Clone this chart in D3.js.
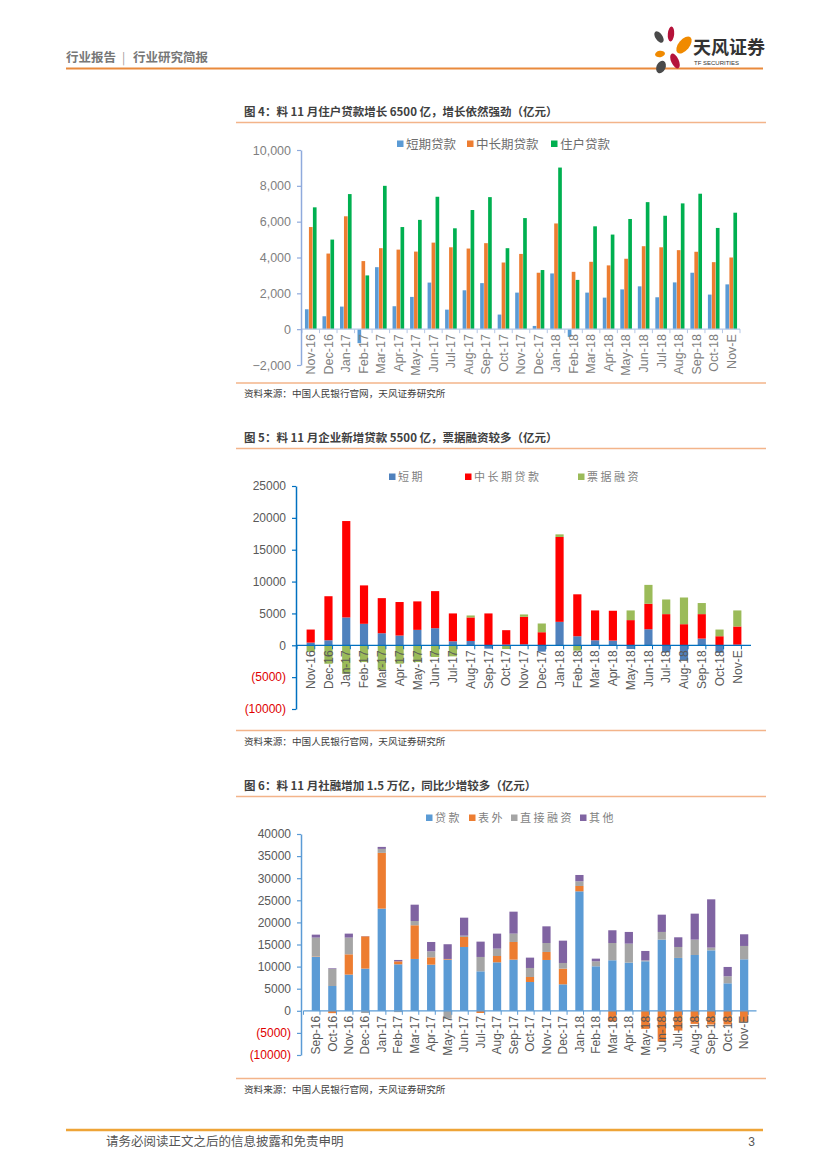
<!DOCTYPE html>
<html>
<head>
<meta charset="utf-8">
<script src="https://cdn.jsdelivr.net/npm/d3@7"></script>
<style>
  body { margin: 0; background: #fff; }
  svg text { font-family: "Liberation Sans", Arial, sans-serif; }
  .cjk { font-family: "Noto Sans CJK SC", sans-serif !important; }
</style>
</head>
<body>
<div id="page"></div>
<script>
// ---- data (亿元) ----
const months4 = ['Nov-16','Dec-16','Jan-17','Feb-17','Mar-17','Apr-17','May-17','Jun-17','Jul-17','Aug-17','Sep-17','Oct-17','Nov-17','Dec-17','Jan-18','Feb-18','Mar-18','Apr-18','May-18','Jun-18','Jul-18','Aug-18','Sep-18','Oct-18','Nov-E'];
const series4 = ['短期贷款', '中长期贷款', '住户贷款'];
const shortLoan4 = [1110, 720, 1260, -780, 3460, 1280, 1800, 2600, 1090, 2170, 2570, 815, 2040, 180, 3110, -430, 2040, 1760, 2220, 2390, 1780, 2610, 3150, 1930, 2500];
const midLong4 = [5700, 4220, 6300, 3800, 4520, 4440, 4330, 4830, 4570, 4500, 4800, 3720, 4200, 3150, 5900, 3200, 3760, 3560, 3930, 4630, 4570, 4410, 4320, 3740, 4000];
const household4 = [6800, 5000, 7540, 3000, 8000, 5700, 6100, 7390, 5630, 6650, 7370, 4520, 6200, 3300, 9020, 2750, 5740, 5280, 6150, 7090, 6330, 7020, 7560, 5650, 6500];
const ticks4 = [-2000, 0, 2000, 4000, 6000, 8000, 10000];

const months5 = months4;
const series5 = ['短期', '中长期贷款', '票据融资'];
const short5 = [420, 790, 4370, 3370, 1890, 1530, 2420, 2680, 630, 680, -530, 100, 160, -1000, 3680, 1420, 790, 740, -580, 2520, -1100, -2300, 1050, -1160, 100];
const midLong5 = [2050, 6910, 15130, 6030, 5510, 5260, 4470, 5820, 4370, 3690, 5000, 2270, 4310, 2050, 13320, 6580, 4680, 4680, 3950, 4000, 4890, 3310, 3840, 1420, 2850];
const bill5 = [-1050, -2900, -4470, -2630, -3840, -2890, -2630, -1840, -1740, 310, 0, -580, 370, 1370, 410, -840, 0, 0, 1520, 2960, 2300, 4190, 1740, 1050, 2520];
const ticks5 = [-10000, -5000, 0, 5000, 10000, 15000, 20000, 25000];

const months6 = ['Sep-16','Oct-16','Nov-16','Dec-16','Jan-17','Feb-17','Mar-17','Apr-17','May-17','Jun-17','Jul-17','Aug-17','Sep-17','Oct-17','Nov-17','Dec-17','Jan-18','Feb-18','Mar-18','Apr-18','May-18','Jun-18','Jul-18','Aug-18','Sep-18','Oct-18','Nov-E'];
const series6 = ['贷款', '表外', '直接融资', '其他'];
const loan6 = [12180, 5610, 8190, 9540, 23110, 10520, 11730, 10440, 11580, 14440, 8930, 10970, 11580, 6520, 11500, 5990, 27030, 10070, 11430, 10900, 11200, 16100, 11960, 12630, 13680, 6220, 11650];
const offBal6 = [100, -530, 4590, 7310, 12620, 670, 7620, 1660, 150, 2260, -500, 1430, 3990, 1130, 1810, 3550, 1210, 0, -2430, 0, -4090, -6970, -4470, -2960, -3110, -3100, -2500];
const direct6 = [4280, 3850, 3780, -500, 900, -300, 970, 1360, -1800, 300, 3250, 1660, 1890, 2040, 2030, 1280, 1060, 1120, 3910, 4290, 200, 1740, 2480, 3470, 610, 1590, 3020];
const other6 = [670, 150, 900, 50, 450, 310, 3690, 2110, 3330, 4070, 3470, 3400, 4970, 2340, 3770, 5050, 1430, 610, 2880, 2650, 2140, 3910, 2190, 5880, 10930, 2110, 2640];
const ticks6 = [-10000, -5000, 0, 5000, 10000, 15000, 20000, 25000, 30000, 35000, 40000];

const svg = d3.select('#page').append('svg')
    .attr('width', 827)
    .attr('height', 1169);

// ---- page header / footer ----
svg.append('text').attr('class', 'cjk')
    .attr('x', 66).attr('y', 62)
    .style('font-size', '12.5px').style('fill', '#777').style('font-weight', 'bold')
    .text('行业报告');
svg.append('text').attr('class', 'cjk')
    .attr('x', 122).attr('y', 61.5)
    .style('font-size', '12px').style('fill', '#999')
    .text('|');
svg.append('text').attr('class', 'cjk')
    .attr('x', 133).attr('y', 62)
    .style('font-size', '12.5px').style('fill', '#777').style('font-weight', 'bold')
    .text('行业研究简报');
svg.append('line').attr('x1', 66).attr('x2', 763).attr('y1', 68.5).attr('y2', 68.5)
    .style('stroke', '#e98a3c').style('stroke-width', 2);

// logo petals
const petals = [
    {cx: 659, cy: 37, rx: 3.5, ry: 6.5, a: -35, c: '#4a4a4a'},
    {cx: 671, cy: 34, rx: 3.2, ry: 7.5, a: 5, c: '#b5123a'},
    {cx: 684, cy: 45, rx: 5.5, ry: 10, a: 40, c: '#f08a00'},
    {cx: 660, cy: 54, rx: 5, ry: 3.2, a: -10, c: '#f08a00'},
    {cx: 675, cy: 61, rx: 3.8, ry: 8, a: -25, c: '#b5123a'},
    {cx: 661, cy: 67, rx: 4.5, ry: 6.5, a: 25, c: '#4a4a4a'}
];
petals.forEach(p => {
    svg.append('ellipse')
        .attr('cx', 0).attr('cy', 0).attr('rx', p.rx).attr('ry', p.ry)
        .attr('transform', `translate(${p.cx},${p.cy}) rotate(${p.a})`)
        .style('fill', p.c);
});
svg.append('text').attr('class', 'cjk')
    .attr('x', 693).attr('y', 54)
    .style('font-size', '18px').style('font-weight', 'bold').style('fill', '#333')
    .text('天风证券');
svg.append('text')
    .attr('x', 694).attr('y', 65)
    .style('font-size', '6px').style('fill', '#333')
    .text('TF SECURITIES');

svg.append('line').attr('x1', 66).attr('x2', 763).attr('y1', 1130).attr('y2', 1130)
    .style('stroke', '#eea437').style('stroke-width', 2.5);
svg.append('text').attr('class', 'cjk')
    .attr('x', 106).attr('y', 1146)
    .style('font-size', '12.5px').style('fill', '#555')
    .text('请务必阅读正文之后的信息披露和免责申明');
svg.append('text')
    .attr('x', 755).attr('y', 1146).attr('text-anchor', 'end')
    .style('font-size', '12px').style('fill', '#555')
    .text('3');

// ---- frame of each figure: title, separator lines, source ----
function frame(title, titleY, topLine, bottomLine) {
    svg.append('text').attr('class', 'cjk')
        .attr('x', 244).attr('y', titleY)
        .style('font-size', '11.5px').style('font-weight', 'bold').style('fill', '#404040')
        .text(title);
    svg.append('line').attr('x1', 236).attr('x2', 766).attr('y1', topLine).attr('y2', topLine)
        .style('stroke', '#f3b48a').style('stroke-width', 1.6);
    svg.append('line').attr('x1', 236).attr('x2', 766).attr('y1', bottomLine).attr('y2', bottomLine)
        .style('stroke', '#f3b48a').style('stroke-width', 1.6);
    svg.append('text').attr('class', 'cjk')
        .attr('x', 244).attr('y', bottomLine + 14)
        .style('font-size', '9.6px').style('fill', '#404040')
        .text('资料来源：中国人民银行官网，天风证券研究所');
}

function legend(items, y, size, spacing, color) {
    items.forEach(it => {
        svg.append('rect')
            .attr('x', it.x).attr('y', y - 3.5).attr('width', 6.5).attr('height', 6.5)
            .style('fill', it.c);
        svg.append('text').attr('class', 'cjk')
            .attr('x', it.x + 9).attr('y', y).attr('dy', '0.36em')
            .style('font-size', size).style('letter-spacing', spacing).style('fill', color)
            .text(it.t);
    });
}

function categoryAxis(x, y0, months, axisColor, labelSize, labelColor) {
    const [r0, r1] = x.range();
    svg.append('line').attr('x1', r0).attr('x2', r1).attr('y1', y0).attr('y2', y0)
        .style('stroke', axisColor).style('stroke-width', 1.2);
    d3.range(months.length + 1).forEach(i => {
        const tx = r0 + i * x.step();
        svg.append('line').attr('x1', tx).attr('x2', tx).attr('y1', y0).attr('y2', y0 + 4)
            .style('stroke', axisColor).style('stroke-width', 1);
    });
    months.forEach(m => {
        const cx = x(m) + x.bandwidth() / 2;
        svg.append('text')
            .attr('transform', `translate(${cx},${y0 + 5}) rotate(-90)`)
            .attr('text-anchor', 'end').attr('dy', '0.35em')
            .style('font-size', labelSize).style('fill', labelColor)
            .text(m);
    });
}

function valueAxis(y, xPos, ticks, fmt, axisColor, labelSize) {
    const g = svg.append('g').attr('transform', `translate(${xPos},0)`)
        .call(d3.axisLeft(y).tickValues(ticks).tickFormat(fmt).tickSize(4).tickSizeOuter(0).tickPadding(6));
    g.select('.domain').style('stroke', axisColor).style('stroke-width', 1.5);
    g.selectAll('.tick line').style('stroke', axisColor).style('stroke-width', 1.2);
    g.selectAll('.tick text')
        .style('font-size', labelSize)
        .style('font-family', '"Liberation Sans", Arial, sans-serif')
        .style('fill', d => d < 0 ? '#e00000' : '#595959');
    return g;
}

// ================= 图 4 =================
frame('图 4：料 11 月住户贷款增长 6500 亿，增长依然强劲（亿元）', 116, 122.5, 383);
const colors4 = ['#5b9bd5', '#ed7d31', '#00b050'];
legend([
    {x: 397, t: series4[0], c: colors4[0]},
    {x: 467, t: series4[1], c: colors4[1]},
    {x: 551, t: series4[2], c: colors4[2]}
], 144, '12.5px', '0px', '#6d6d6d');

const rows4 = months4.map((m, i) => ({m, v: [shortLoan4[i], midLong4[i], household4[i]]}));
const x4 = d3.scaleBand().domain(months4).range([302, 740]);
const xi4 = d3.scaleBand().domain([0, 1, 2])
    .range([x4.bandwidth() * 0.15, x4.bandwidth() * 0.85]).padding(0.08);
const y4 = d3.scaleLinear().domain([-2000, 10000]).range([365, 150]);

rows4.forEach(r => {
    r.v.forEach((v, k) => {
        svg.append('rect')
            .attr('x', x4(r.m) + xi4(k))
            .attr('y', y4(Math.max(0, v)))
            .attr('width', xi4.bandwidth())
            .attr('height', Math.abs(y4(v) - y4(0)))
            .style('fill', colors4[k]);
    });
});
categoryAxis(x4, y4(0), months4, '#b4c7e7', '12.5px', '#7f7f7f');
const ax4 = valueAxis(y4, 301, ticks4, d3.format(','), '#8faadc', '12.5px');
ax4.selectAll('.tick text').style('fill', '#7f7f7f');

// ================= 图 5 =================
frame('图 5：料 11 月企业新增贷款 5500 亿，票据融资较多（亿元）', 442, 448.5, 730.5);
const colors5 = ['#4f81bd', '#ff0000', '#9bbb59'];
legend([
    {x: 389, t: series5[0], c: colors5[0]},
    {x: 465, t: series5[1], c: colors5[1]},
    {x: 578, t: series5[2], c: colors5[2]}
], 477, '11px', '2.5px', '#7f7f7f');

const rows5 = months5.map((m, i) => ({m, s: short5[i], l: midLong5[i], b: bill5[i]}));
const stack5 = d3.stack().keys(['s', 'l', 'b']).offset(d3.stackOffsetDiverging)(rows5);
const x5 = d3.scaleBand().domain(months5).range([297, 751]).padding(0.54);
const y5 = d3.scaleLinear().domain([-10000, 25000]).range([709, 486]);

svg.append('g').selectAll('g').data(stack5).join('g')
    .style('fill', (d, i) => colors5[i])
    .selectAll('rect').data(d => d).join('rect')
    .attr('x', d => x5(d.data.m))
    .attr('y', d => y5(d[1]))
    .attr('width', x5.bandwidth())
    .attr('height', d => y5(d[0]) - y5(d[1]));

categoryAxis(x5, y5(0), months5, '#0070c0', '12px', '#595959');
valueAxis(y5, 296, ticks5, d => d < 0 ? `(${-d})` : d, '#0070c0', '12px');

// ================= 图 6 =================
frame('图 6：料 11 月社融增加 1.5 万亿，同比少增较多（亿元）', 790, 796.5, 1078.5);
const colors6 = ['#5b9bd5', '#ed7d31', '#a5a5a5', '#8064a2'];
legend([
    {x: 426, t: series6[0], c: colors6[0]},
    {x: 469, t: series6[1], c: colors6[1]},
    {x: 511, t: series6[2], c: colors6[2]},
    {x: 580, t: series6[3], c: colors6[3]}
], 818, '11px', '2.5px', '#7f7f7f');

const rows6 = months6.map((m, i) => ({m, a: loan6[i], o: offBal6[i], d: direct6[i], t: other6[i]}));
const stack6 = d3.stack().keys(['a', 'o', 'd', 't']).offset(d3.stackOffsetDiverging)(rows6);
const x6 = d3.scaleBand().domain(months6).range([303.5, 756.5]).padding(0.5);
const y6 = d3.scaleLinear().domain([-10000, 40000]).range([1055, 834]);

svg.append('g').selectAll('g').data(stack6).join('g')
    .style('fill', (d, i) => colors6[i])
    .selectAll('rect').data(d => d).join('rect')
    .attr('x', d => x6(d.data.m))
    .attr('y', d => y6(d[1]))
    .attr('width', x6.bandwidth())
    .attr('height', d => y6(d[0]) - y6(d[1]));

categoryAxis(x6, y6(0), months6, '#5b9bd5', '12px', '#595959');
valueAxis(y6, 301, ticks6, d => d < 0 ? `(${-d})` : d, '#5b9bd5', '12px');
</script>
</body>
</html>
